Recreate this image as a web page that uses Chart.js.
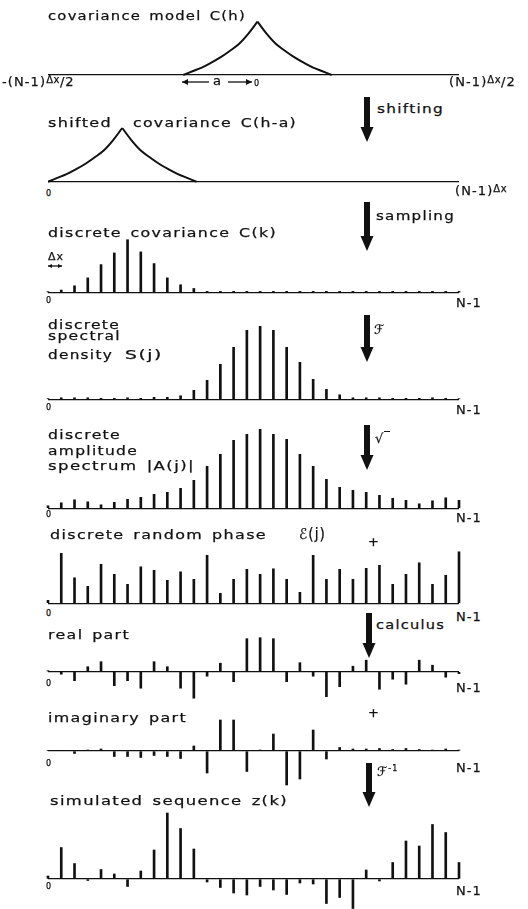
<!DOCTYPE html>
<html>
<head>
<meta charset="utf-8">
<script src="https://cdn.jsdelivr.net/npm/chart.js@4.4.0/dist/chart.umd.min.js"></script>
<style>
  html, body { margin: 0; padding: 0; background: #fff; }
  #fig { position: relative; width: 528px; height: 909px; overflow: hidden;
         font-family: "DejaVu Sans", sans-serif; color: #111; }
  #fig canvas { position: absolute; }
  #marks { position: absolute; left: 0; top: 0; }
  .lbl { position: absolute; white-space: nowrap; line-height: 1; letter-spacing: 1.1px; word-spacing: 2px;
         -webkit-text-stroke: 0.25px #111; transform-origin: 0 50%; }
  .sm { font-size: 10px; position: relative; top: -3px; letter-spacing: 0.5px; }
  .root { border-top: 1.3px solid #111; padding-left: 6px; position: relative; top: 1px; }
</style>
</head>
<body>
<div id="fig">
  <svg id="marks" width="528" height="909"></svg>
</div>
<script>
// sample index 0 .. N-1 (N = 32)
const index = [0, 1, 2, 3, 4, 5, 6, 7, 8, 9, 10, 11, 12, 13, 14, 15,
               16, 17, 18, 19, 20, 21, 22, 23, 24, 25, 26, 27, 28, 29, 30, 31];

// covariance model, lag in units of dx, value relative to the sill
const covLag = [-5.6, -4.9, -4.2, -3.5, -2.8, -2.1, -1.4, -0.7, 0,
                0.7, 1.4, 2.1, 2.8, 3.5, 4.2, 4.9, 5.6];
const covModel = [0, 0.07, 0.14, 0.23, 0.33, 0.45, 0.58, 0.77, 1,
                  0.77, 0.58, 0.45, 0.33, 0.23, 0.14, 0.07, 0];
// same model shifted by a
const shiftedLag = [0, 0.7, 1.4, 2.1, 2.8, 3.5, 4.2, 4.9, 5.6,
                    6.3, 7.0, 7.7, 8.4, 9.1, 9.8, 10.5, 11.2];

// discrete covariance C(k), relative to the sill
const covDiscrete = [0.02, 0.05, 0.13, 0.28, 0.53, 0.75, 1.0, 0.77, 0.55, 0.28, 0.15, 0.08,
                     0.025, 0.025, 0.025, 0.025, 0.025, 0.025, 0.025, 0.025, 0.025, 0.025,
                     0.025, 0.025, 0.025, 0.025, 0.025, 0.025, 0.025, 0.025, 0.025, 0.025];

// spectral density S(j)
const spectral = [0.5, 1.5, 1.5, 1.5, 1, 1, 1.5, 1, 2, 2, 3.5, 9, 19, 35, 52, 69,
                  73, 69, 52, 37, 20, 10, 4.5, 1.5, 1.5, 1.5, 1, 1, 1, 1.5, 1, 0.5];

// amplitude spectrum |A(j)|
const amplitude = [2.5, 5.5, 8.5, 6.5, 3.5, 6, 9, 11, 14, 16, 20, 28, 42, 54, 68, 74,
                   79, 74, 69, 54, 42, 29, 21, 18, 16, 13, 10, 8, 4.5, 7.5, 10.5, 8];

// random phase
const phase = [3, 50, 25.5, 17, 39, 29, 19, 36.5, 33, 23, 31.5, 24, 48, 10, 24, 34,
               29, 34.5, 24, 11, 48, 24, 34, 24, 35, 38, 19, 29, 40.5, 19, 28, 51.5];

// real and imaginary parts
const realPart = [1, -2.5, -9, 5, 10, -14, -9, -16.5, 10, 5, -16.5, -26.5, -4.5, 8.5, -10, 33,
                  34, 33, -10, 9, -4.5, -25, -15, 5.5, 11.5, -17.5, -7.5, -12.5, 11.5, 6.5, -5.5, -2];
const imagPart = [0.5, 0.5, -2.5, 1, 2, -5.5, -5.5, -6.5, -4.5, -5.5, -7.5, 5, -22, 31, 31, -20.5,
                  1, 17, -34, -28, 21, -8, 3.5, 2, 2, 2.5, 1.5, 2.5, 1.5, 1, 2, 1];

// simulated sequence z(k)
const simulated = [3, 31.5, 15.5, -1.5, 9.5, 5, -7.5, 8, 29, 66, 50.5, 30, -3, -8.5, -14, -16,
                   -7.5, -11, -15.5, -4, -5, -24.5, -18.5, -29.5, 9, -2, 16.5, 38, 33, 54.5, 46.5, 16.5];

const INK = '#111';
const fig = document.getElementById('fig');

// one strip per step; top/base/bottom are page rows, unit = pixels per data unit
const panels = [
  { type: 'line', x: covLag, y: covModel, top: 15, base: 75, bottom: 80, unit: 53.3, xMin: -15.8, xMax: 15.2 },
  { type: 'line', x: shiftedLag, y: covModel, top: 120, base: 181.7, bottom: 186, unit: 53.7, xMin: 0, xMax: 31 },
  { type: 'bar', y: covDiscrete, top: 232, base: 292.7, bottom: 297, unit: 53 },
  { type: 'bar', y: spectral, top: 318, base: 399.3, bottom: 403, unit: 1 },
  { type: 'bar', y: amplitude, top: 423, base: 508.3, bottom: 512, unit: 1 },
  { type: 'bar', y: phase, top: 546, base: 603.3, bottom: 607, unit: 1 },
  { type: 'bar', y: realPart, top: 632, base: 671.7, bottom: 705, unit: 1 },
  { type: 'bar', y: imagPart, top: 714, base: 751, bottom: 792, unit: 1 },
  { type: 'bar', y: simulated, top: 806, base: 879, bottom: 912, unit: 1 }
];

function curve(xs, ys) {
  // the model has a cusp at its peak, so each flank is its own smooth piece
  const peak = ys.indexOf(Math.max(...ys));
  const pts = xs.map((v, i) => ({ x: v, y: ys[i] }));
  const style = { borderColor: INK, borderWidth: 2, pointRadius: 0, tension: 0.35, fill: false };
  return [
    Object.assign({ data: pts.slice(0, peak + 1) }, style),
    Object.assign({ data: pts.slice(peak) }, style)
  ];
}

function makePanel(p) {
  const c = document.createElement('canvas');
  const h = p.bottom - p.top;
  c.width = 419; c.height = h;
  c.style.width = '419px'; c.style.height = h + 'px';
  c.style.left = '44px'; c.style.top = p.top + 'px';
  fig.appendChild(c);

  const isLine = p.type === 'line';
  const datasets = isLine
    ? curve(p.x, p.y)
    : [{ data: p.y, backgroundColor: INK, barThickness: 2, clip: false }];

  new Chart(c, {
    type: p.type,
    data: { labels: isLine ? undefined : index, datasets: datasets },
    options: {
      responsive: false,
      animation: false,
      events: [],
      layout: { padding: { left: 4, right: 4, top: 0, bottom: 0 } },
      plugins: { legend: { display: false }, tooltip: { enabled: false } },
      scales: {
        x: isLine
          ? { type: 'linear', display: false, min: p.xMin, max: p.xMax }
          : { display: false, offset: false },
        y: {
          min: -(p.bottom - p.base) / p.unit,
          max: (p.base - p.top) / p.unit,
          afterBuildTicks: s => { s.ticks = [{ value: 0 }]; },   // only the zero line
          ticks: { display: false },
          border: { display: false },
          grid: { drawTicks: false, color: INK, lineWidth: 1.3 }
        }
      }
    }
  });
}
panels.forEach(makePanel);

// text placed by baseline; with a width the line is stretched to span it
function label(html, x, baseline, size, width) {
  const d = document.createElement('div');
  d.className = 'lbl';
  size = size || 13;
  d.style.fontSize = size + 'px';
  d.style.left = x + 'px';
  d.style.top = (baseline - 0.846 * size) + 'px';
  d.innerHTML = html;
  fig.appendChild(d);
  if (width) {
    const w = d.getBoundingClientRect().width;
    d.style.transform = 'scaleX(' + (width / w).toFixed(3) + ')';
  }
}
label('covariance model C(h)', 48, 20, 13, 198);
label('-(N-1)<span class="sm">Δx</span>/2', 2, 86);
label('(N-1)<span class="sm">Δx</span>/2', 449, 86);
label('a', 213, 85);
label('0', 254, 87, 8);
label('shifting', 377, 113, 13, 67);
label('shifted', 48, 127, 13, 64);
label('covariance C(h-a)', 133, 127, 13, 164);
label('0', 46, 197, 8);
label('(N-1)<span class="sm">Δx</span>', 455, 195);
label('sampling', 376, 220, 13, 79);
label('discrete covariance C(k)', 48, 237, 13, 229);
label('Δx', 48, 260, 11);
label('0', 46, 304, 8);
label('N-1', 456, 307);
label('discrete', 48, 329, 13, 72);
label('spectral', 48, 340, 13, 73);
label('density', 48, 359, 13, 65);
label('S(j)', 125, 359, 13, 38);
label('ℱ', 374, 334, 13);
label('0', 46, 411, 8);
label('N-1', 456, 414);
label('discrete', 48, 439, 13, 73);
label('amplitude', 48, 455, 13, 90);
label('spectrum |A(j)|', 48, 470, 13, 147);
label('√<span class="root"></span>', 375, 443, 13);
label('0', 46, 518, 8);
label('N-1', 456, 522);
label('discrete random phase', 50, 539, 13, 217);
label('ℰ(j)', 299, 540, 15, 27);
label('+', 368, 546);
label('0', 46, 617, 8);
label('N-1', 456, 621);
label('calculus', 376, 629, 13, 69);
label('real part', 48, 639, 13, 82);
label('0', 46, 687, 8);
label('N-1', 456, 692);
label('imaginary part', 48, 722, 13, 139);
label('+', 368, 717);
label('0', 46, 767, 8);
label('N-1', 456, 772);
label('ℱ<sup style="font-size:8px">-1</sup>', 377, 776, 13);
label('simulated sequence z(k)', 50, 805, 13, 238);
label('0', 46, 890, 8);
label('N-1', 456, 895);

// heavy down arrows between the steps, and the small dimension arrows
const svg = document.getElementById('marks');
const NS = 'http://www.w3.org/2000/svg';
function add(tag, attrs) {
  const el = document.createElementNS(NS, tag);
  for (const k in attrs) el.setAttribute(k, attrs[k]);
  svg.appendChild(el);
}
function downArrow(cx, y0, y1) {
  add('rect', { x: cx - 3, y: y0, width: 6, height: y1 - y0 - 13, fill: INK });
  add('polygon', { points: `${cx - 6.5},${y1 - 15} ${cx + 6.5},${y1 - 15} ${cx},${y1}`, fill: INK });
}
downArrow(367, 97, 142);
downArrow(367, 202, 251);
downArrow(367, 315, 362);
downArrow(367, 425, 470);
downArrow(369, 613, 658);
downArrow(369, 763, 807);

function hArrow(x0, x1, y, head) {
  add('line', { x1: x0, y1: y, x2: x1, y2: y, stroke: INK, 'stroke-width': 1.3 });
  const d = x1 > x0 ? 1 : -1;
  add('polygon', { points: `${x1},${y} ${x1 - d * head},${y - head / 2} ${x1 - d * head},${y + head / 2}`, fill: INK });
}
hArrow(209, 182, 82, 6);
hArrow(228, 252, 82, 6);
hArrow(55, 48, 266, 4);
hArrow(55, 62, 266, 4);
</script>
</body>
</html>
